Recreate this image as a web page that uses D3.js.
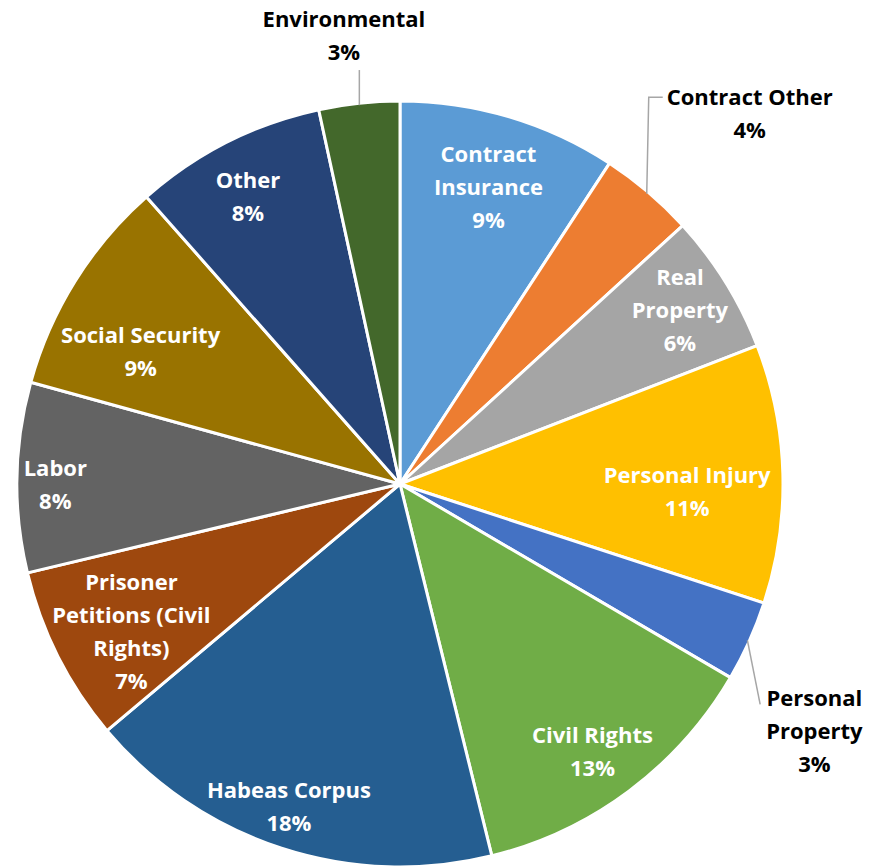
<!DOCTYPE html>
<html>
<head>
<meta charset="utf-8">
<script src="https://cdn.jsdelivr.net/npm/d3@7"></script>
<style>
  body { margin: 0; background: #fff; }
  text { font-family: "Open Sans", sans-serif; font-weight: bold; }
</style>
</head>
<body>
<div class="chart"></div>
<script>
// data (share of cases, %)
const categories = ['Contract Insurance', 'Contract Other', 'Real Property', 'Personal Injury',
  'Personal Property', 'Civil Rights', 'Habeas Corpus', 'Prisoner Petitions (Civil Rights)',
  'Labor', 'Social Security', 'Other', 'Environmental'];
const values = [9.2, 4.0, 5.9, 10.9, 3.4, 12.7, 17.7, 7.4, 8.0, 9.2, 8.1, 3.4];
const colors = ['#5b9bd5', '#ed7d31', '#a5a5a5', '#ffc000', '#4472c4', '#70ad47',
  '#255e91', '#9e480e', '#636363', '#997300', '#264478', '#43682b'];
// how each label is wrapped
const labelLines = [['Contract', 'Insurance'], ['Contract Other'], ['Real', 'Property'],
  ['Personal Injury'], ['Personal', 'Property'], ['Civil Rights'], ['Habeas Corpus'],
  ['Prisoner', 'Petitions (Civil', 'Rights)'], ['Labor'], ['Social Security'], ['Other'],
  ['Environmental']];
// label distance as fraction of radius, angle nudge in degrees, outside labels get a leader
const labelRadius = [0.81, 1.33, 0.86, 0.75, 1.26, 0.86, 0.89, 0.80, 0.90, 0.76, 0.85, 1.18];
const labelAngleShift = [0, 3, 0, 3, 6.6, 1, 1, -2, -1, -5, -1, -1];
const outside = [false, true, false, false, true, false, false, false, false, false, false, true];

const width = 884, height = 867;
const cx = 400, cy = 484, R = 383;
const lineH = 33;

const svg = d3.select('.chart').append('svg')
  .attr('width', width)
  .attr('height', height);

const g = svg.append('g').attr('transform', `translate(${cx},${cy})`);

const total = d3.sum(values);
const pie = d3.pie().sort(null).value(d => d)(values);
const arc = d3.arc().innerRadius(0).outerRadius(R);

g.selectAll('path.slice')
  .data(pie)
  .join('path')
  .attr('class', 'slice')
  .attr('d', arc)
  .attr('fill', (d, i) => colors[i])
  .attr('stroke', '#fff')
  .attr('stroke-width', 3)
  .attr('stroke-linejoin', 'round');

function polar(r, a) {
  return [r * Math.sin(a), -r * Math.cos(a)];
}

pie.forEach((d, i) => {
  const mid = (d.startAngle + d.endAngle) / 2 + labelAngleShift[i] * Math.PI / 180;
  const [x, y] = polar(R * labelRadius[i], mid);
  const lines = labelLines[i].concat([Math.round(values[i] / total * 100) + '%']);
  const t = g.append('text')
    .attr('text-anchor', 'middle')
    .attr('fill', outside[i] ? '#000' : '#fff')
    .attr('font-size', 22);
  lines.forEach((s, k) => {
    t.append('tspan')
      .attr('x', x)
      .attr('y', y + (k - (lines.length - 1) / 2) * lineH + 8)
      .text(s);
  });

  if (outside[i]) {
    // leader line from slice edge toward the label
    const m = (d.startAngle + d.endAngle) / 2;
    const p0 = polar(R - 2, m);
    const box = t.node().getBBox();
    let pts;
    if (i === 1) {
      pts = [p0, [p0[0] + 2, box.y + 16], [box.x - 4, box.y + 16]];
    } else if (i === 4) {
      pts = [p0, [box.x - 6, box.y + 22]];
    } else {
      pts = [p0, [p0[0], box.y + box.height + 4]];
    }
    g.append('path')
      .attr('d', d3.line()(pts))
      .attr('fill', 'none')
      .attr('stroke', '#a6a6a6')
      .attr('stroke-width', 1.5);
  }
});
</script>
</body>
</html>
